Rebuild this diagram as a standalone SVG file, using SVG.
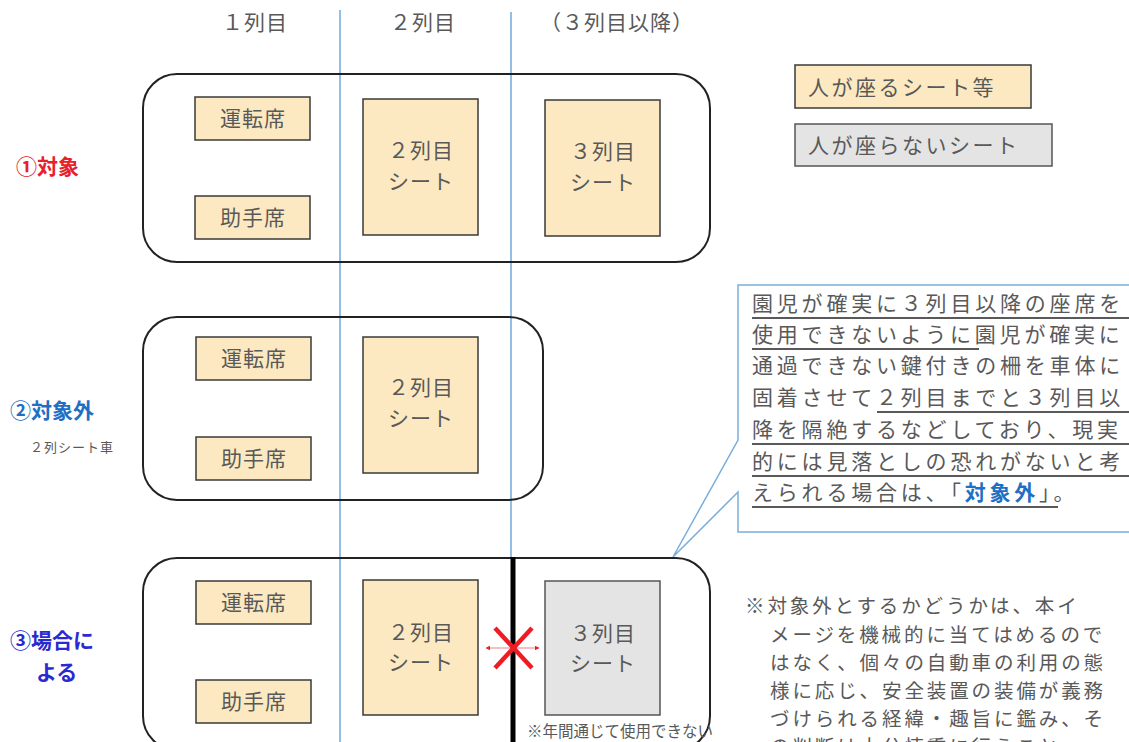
<svg xmlns="http://www.w3.org/2000/svg" width="1129" height="742" viewBox="0 0 1129 742">
<style>
text{font-family:"Noto Sans CJK JP","Noto Sans",sans-serif;fill:#595959}
.hdr{font-size:21px;letter-spacing:1px}
.seat{fill:#fce9c1;stroke:#3a3a3a;stroke-width:1.5}
.gseat{fill:#e4e4e4;stroke:#555;stroke-width:1.5}
.panel{fill:none;stroke:#222;stroke-width:2}
.st{font-size:21px;text-anchor:middle;letter-spacing:1px}
.vline{stroke:#5b9bd5;stroke-width:1.3}
.co{font-size:21px;letter-spacing:3.8px}
.note{font-size:19.5px;letter-spacing:2.9px}
.ul{stroke:#222;stroke-width:1.5}
</style>
<defs>
<marker id="ah" viewBox="0 0 10 10" refX="9" refY="5" markerWidth="4" markerHeight="4" orient="auto-start-reverse"><path d="M0,0 L10,5 L0,10 Z" fill="#e8202a"/></marker>
</defs>

<g id="header">
<text class="hdr" x="222" y="30">１列目</text>
<text class="hdr" x="390" y="30">２列目</text>
<text class="hdr" x="540" y="30">（３列目以降）</text>
</g>

<g id="connectors">
<line class="vline" x1="340" y1="10" x2="340" y2="742"/>
<line class="vline" x1="511" y1="12" x2="511" y2="558"/>
<path d="M738,285 H1132 V532 H738 V492 L673,557 L738,440 Z" fill="#fff" stroke="#7aaedb" stroke-width="1.5"/>
</g>

<g id="legend">
<rect class="seat" x="795" y="65" width="236" height="43"/>
<text x="808" y="95" font-size="21" letter-spacing="2.5">人が座るシート等</text>
<rect class="gseat" x="795" y="124" width="257" height="42"/>
<text x="808" y="153" font-size="21" letter-spacing="2.5">人が座らないシート</text>
</g>

<g id="row1">
<text x="16" y="174" font-size="21" font-weight="bold" style="fill:#e8202a">①対象</text>
<rect class="panel" x="143" y="74" width="567" height="188" rx="34"/>
<rect class="seat" x="195" y="97" width="115" height="43"/>
<text class="st" x="253" y="126">運転席</text>
<rect class="seat" x="195" y="196" width="115" height="43"/>
<text class="st" x="253" y="225">助手席</text>
<rect class="seat" x="363" y="99" width="115" height="136"/>
<text class="st" x="421" y="158">２列目</text>
<text class="st" x="421" y="189">シート</text>
<rect class="seat" x="545" y="100" width="115" height="136"/>
<text class="st" x="603" y="159">３列目</text>
<text class="st" x="603" y="190">シート</text>
</g>

<g id="row2">
<text x="10" y="418" font-size="21" font-weight="bold" style="fill:#1f6fc4">②対象外</text>
<text x="30" y="452" font-size="13" letter-spacing="1">２列シート車</text>
<rect class="panel" x="143" y="317" width="400" height="183" rx="34"/>
<rect class="seat" x="196" y="337" width="115" height="43"/>
<text class="st" x="254" y="366">運転席</text>
<rect class="seat" x="196" y="437" width="115" height="43"/>
<text class="st" x="254" y="466">助手席</text>
<rect class="seat" x="363" y="337" width="115" height="136"/>
<text class="st" x="421" y="395">２列目</text>
<text class="st" x="421" y="426">シート</text>
</g>

<g id="row3">
<text x="10" y="648" font-size="21" font-weight="bold" style="fill:#2a2ad0">③場合に</text>
<text x="36" y="680" font-size="21" font-weight="bold" style="fill:#2a2ad0">よる</text>
<rect class="panel" x="143" y="558" width="567" height="192" rx="34"/>
<rect class="seat" x="196" y="581" width="115" height="43"/>
<text class="st" x="254" y="610">運転席</text>
<rect class="seat" x="196" y="680" width="115" height="43"/>
<text class="st" x="254" y="709">助手席</text>
<rect class="seat" x="363" y="580" width="115" height="135"/>
<text class="st" x="421" y="640">２列目</text>
<text class="st" x="421" y="670">シート</text>
<rect class="gseat" x="545" y="581" width="115" height="134"/>
<text class="st" x="603" y="641">３列目</text>
<text class="st" x="603" y="671">シート</text>
<line x1="513" y1="557" x2="513" y2="742" stroke="#000" stroke-width="5"/>
<line x1="486" y1="648" x2="539" y2="648" stroke="#f08080" stroke-width="1.2" marker-start="url(#ah)" marker-end="url(#ah)"/>
<line x1="495" y1="628" x2="532" y2="668" stroke="#ee1c25" stroke-width="4.5"/>
<line x1="532" y1="628" x2="495" y2="668" stroke="#ee1c25" stroke-width="4.5"/>
<text x="527" y="737" font-size="15.5">※年間通じて使用できない</text>
</g>

<g id="callout">
<text class="co" x="752" y="311">園児が確実に３列目以降の座席を</text>
<line class="ul" x1="752" y1="318" x2="1129" y2="318"/>
<text class="co" x="752" y="342">使用できないように園児が確実に</text>
<line class="ul" x1="752" y1="349" x2="979" y2="349"/>
<text class="co" x="752" y="373">通過できない鍵付きの柵を車体に</text>
<text class="co" x="752" y="405">固着させて２列目までと３列目以</text>
<line class="ul" x1="877" y1="412" x2="1129" y2="412"/>
<text class="co" x="752" y="437">降を隔絶するなどしており、現実</text>
<line class="ul" x1="752" y1="444" x2="1129" y2="444"/>
<text class="co" x="752" y="469">的には見落としの恐れがないと考</text>
<line class="ul" x1="752" y1="476" x2="1129" y2="476"/>
<text class="co" x="752" y="500">えられる場合は、「<tspan font-weight="bold" style="fill:#1f6fc4">対象外</tspan>」。</text>
<line class="ul" x1="752" y1="507" x2="1058" y2="507"/>
</g>

<g id="note">
<text class="note" x="745" y="613">※対象外とするかどうかは、本イ</text>
<text class="note" x="770" y="642">メージを機械的に当てはめるので</text>
<text class="note" x="770" y="670">はなく、個々の自動車の利用の態</text>
<text class="note" x="770" y="698">様に応じ、安全装置の装備が義務</text>
<text class="note" x="770" y="726">づけられる経緯・趣旨に鑑み、そ</text>
<text class="note" x="770" y="754">の判断は十分慎重に行うこと。</text>
</g>
</svg>
